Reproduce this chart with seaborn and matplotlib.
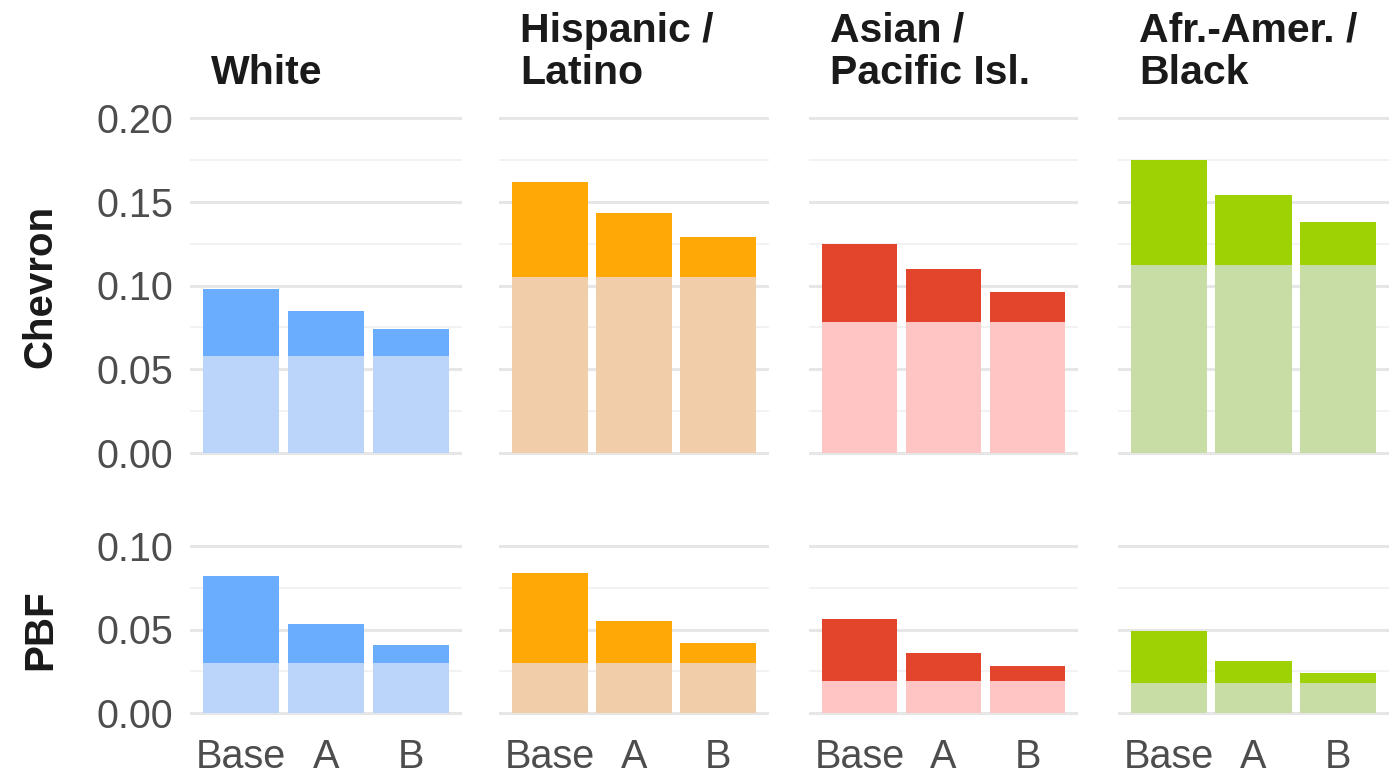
import matplotlib
matplotlib.use("Agg")
import matplotlib.pyplot as plt
import seaborn as sns

# data
groups = ["White", "Hispanic /\nLatino", "Asian /\nPacific Isl.", "Afr.-Amer. /\nBlack"]
scenarios = ["Base", "A", "B"]

chevron_total = [[0.098, 0.085, 0.074],
                 [0.162, 0.143, 0.129],
                 [0.125, 0.110, 0.096],
                 [0.175, 0.154, 0.138]]
chevron_floor = [0.058, 0.105, 0.078, 0.112]

pbf_total = [[0.082, 0.053, 0.041],
             [0.084, 0.055, 0.042],
             [0.056, 0.036, 0.028],
             [0.049, 0.031, 0.024]]
pbf_floor = [0.030, 0.030, 0.019, 0.018]

dark_colors = ["#6AADFF", "#FFA806", "#E2452C", "#9FD205"]
light_colors = ["#BBD5FA", "#F2CDAA", "#FFC5C5", "#C8DCA6"]

sns.set_theme(style="white")
plt.rcParams['font.family'] = ['Liberation Sans', 'DejaVu Sans']

W, H = 1396, 776
fig = plt.figure(figsize=(W / 100, H / 100), dpi=100)

col_px = [(190, 462), (499, 769), (809, 1078), (1118, 1389)]


def make_ax(x0, x1, ytop_px, ybot_px, lo, hi, pad):
    # ytop_px / ybot_px are the pixel rows of values hi and lo
    scale = (ybot_px - ytop_px) / (hi - lo)
    top = ytop_px - pad * scale
    bot = ybot_px + pad * scale
    return fig.add_axes([x0 / W, 1 - bot / H, (x1 - x0) / W, (bot - top) / H])


def draw_panel(ax, totals, floor, dark, light, lo, hi, pad, major, minor):
    sns.barplot(x=scenarios, y=totals, color=dark, saturation=1, width=0.9,
                linewidth=0, ax=ax, zorder=3)
    sns.barplot(x=scenarios, y=[floor] * 3, color=light, saturation=1, width=0.9,
                linewidth=0, ax=ax, zorder=4)
    ax.set_ylim(lo - pad, hi + pad)
    ax.set_xlim(-0.6, 2.6)
    ax.set_yticks(major)
    ax.set_yticks(minor, minor=True)
    ax.grid(axis="y", which="major", color="#E6E6E6", lw=2.2, zorder=0)
    ax.grid(axis="y", which="minor", color="#F1F1F1", lw=1.3, zorder=0)
    ax.grid(axis="x", visible=False)
    sns.despine(ax=ax, left=True, bottom=True)
    ax.tick_params(length=0, labelsize=28.5, labelcolor="#4D4D4D", pad=12)
    ax.set_xlabel("")
    ax.set_ylabel("")


for i, grp in enumerate(groups):
    x0, x1 = col_px[i]
    ax_top = make_ax(x0, x1, 118, 453, 0.0, 0.20, 0.01)
    draw_panel(ax_top, chevron_total[i], chevron_floor[i], dark_colors[i], light_colors[i],
               0.0, 0.20, 0.01, [0, 0.05, 0.10, 0.15, 0.20], [0.025, 0.075, 0.125, 0.175])
    ax_top.set_xticklabels([])
    ax_top.set_yticklabels(["0.00", "0.05", "0.10", "0.15", "0.20"] if i == 0 else [])

    ax_bot = make_ax(x0, x1, 546, 713, 0.0, 0.10, 0.005)
    draw_panel(ax_bot, pbf_total[i], pbf_floor[i], dark_colors[i], light_colors[i],
               0.0, 0.10, 0.005, [0, 0.05, 0.10], [0.025, 0.075])
    ax_bot.set_yticklabels(["0.00", "0.05", "0.10"] if i == 0 else [])

    fig.text((x0 + 21) / W, 1 - 84 / H, grp, ha="left", va="baseline",
             fontsize=29.5, fontweight="bold", color="#1A1A1A", linespacing=1.15)

fig.text(40 / W, 1 - 286 / H, "Chevron", rotation=90, ha="center", va="center",
         fontsize=29, fontweight="bold", color="#1A1A1A")
fig.text(40 / W, 1 - 630 / H, "PBF", rotation=90, ha="center", va="center",
         fontsize=29, fontweight="bold", color="#1A1A1A")

fig.savefig("out.png", dpi=100)
